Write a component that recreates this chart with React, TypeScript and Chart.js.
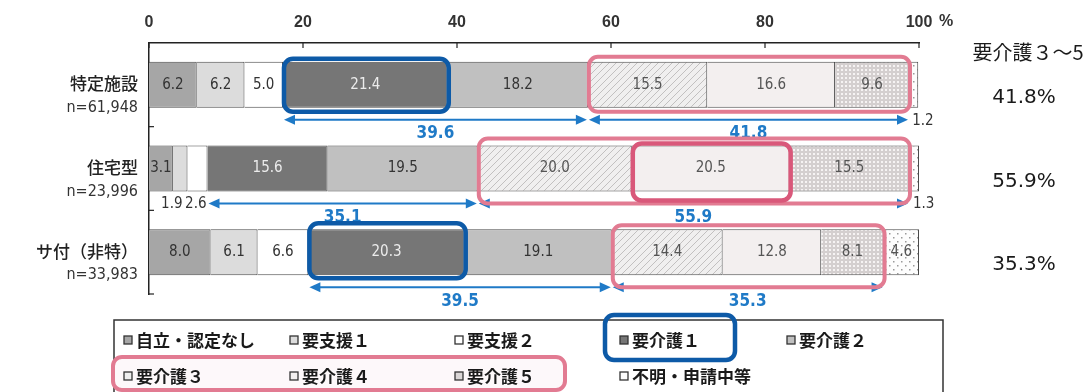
import { useEffect, useRef } from "react";
import { Chart, registerables } from "chart.js";

Chart.register(...registerables);

// ---- data ----
const categoryNames = ["特定施設", "住宅型", "サ付（非特）"];
const categorySizes = ["n=61,948", "n=23,996", "n=33,983"];
const seriesNames = [
  "自立・認定なし",
  "要支援１",
  "要支援２",
  "要介護１",
  "要介護２",
  "要介護３",
  "要介護４",
  "要介護５",
  "不明・申請中等",
];
const jiritsu = [6.2, 3.1, 8.0];
const shien1 = [6.2, 1.9, 6.1];
const shien2 = [5.0, 2.6, 6.6];
const kaigo1 = [21.4, 15.6, 20.3];
const kaigo2 = [18.2, 19.5, 19.1];
const kaigo3 = [15.5, 20.0, 14.4];
const kaigo4 = [16.6, 20.5, 12.8];
const kaigo5 = [9.6, 15.5, 8.1];
const unknown = [1.2, 1.3, 4.6];
const xTicks = [0, 20, 40, 60, 80, 100];
const sum1to2 = [39.6, 35.1, 39.5];
const sum3to5 = [41.8, 55.9, 35.3];
const rightHeader = "要介護３～5";

const seriesValues = [jiritsu, shien1, shien2, kaigo1, kaigo2, kaigo3, kaigo4, kaigo5, unknown];

// ---- styles ----
const NARROW = '"Liberation Sans Narrow", "DejaVu Sans Condensed", "Liberation Sans", sans-serif';
const CJK = '"Noto Sans CJK JP", "Noto Sans", sans-serif';
const baseColors = ["#a6a6a6", "#dcdcdc", "#ffffff", "#767676", "#c0c0c0", "#eeeeee", "#f3efef", "#dad6d6", "#fbfbfb"];
const ARROW = "#1f7ac7";
const BLUE_BOX = "#0d5aa7";
const PINK_BOX = "#e27b92";
const PINK_DARK = "#d9587a";

// highlight boxes: row, first series, last series, extra top, extra bottom
const boxes = [
  { row: 0, from: 5, to: 7, up: 5, down: 4, color: PINK_BOX, lw: 4 },
  { row: 1, from: 5, to: 7, up: 7, down: 12, color: PINK_BOX, lw: 4 },
  { row: 2, from: 5, to: 7, up: 4, down: 12, color: PINK_BOX, lw: 4 },
  { row: 1, from: 6, to: 6, up: 2, down: 9, color: PINK_DARK, lw: 4.5 },
  { row: 0, from: 3, to: 3, up: 3, down: 4, color: BLUE_BOX, lw: 4.5 },
  { row: 2, from: 3, to: 3, up: 6, down: 3, color: BLUE_BOX, lw: 4.5 },
];

function makePattern(kind: string): CanvasPattern | string {
  const c = document.createElement("canvas");
  const ctx = c.getContext("2d");
  if (!ctx) return "#eee";
  if (kind === "hatch") {
    c.width = 7; c.height = 7;
    ctx.fillStyle = "#f0efef";
    ctx.fillRect(0, 0, 7, 7);
    ctx.strokeStyle = "#c2c0c0";
    ctx.lineWidth = 1;
    ctx.beginPath();
    ctx.moveTo(-1, 8); ctx.lineTo(8, -1);
    ctx.moveTo(-1, 1); ctx.lineTo(1, -1);
    ctx.moveTo(6, 8); ctx.lineTo(8, 6);
    ctx.stroke();
  } else if (kind === "dots") {
    c.width = 4; c.height = 4;
    ctx.fillStyle = "#d4cfcf";
    ctx.fillRect(0, 0, 4, 4);
    ctx.fillStyle = "#f6f3f3";
    ctx.fillRect(1, 1, 2, 2);
  } else {
    c.width = 8; c.height = 8;
    ctx.fillStyle = "#fdfdfd";
    ctx.fillRect(0, 0, 8, 8);
    ctx.fillStyle = "#9a9a9a";
    ctx.fillRect(1, 1, 1.5, 1.5);
    ctx.fillRect(5, 5, 1.5, 1.5);
  }
  return ctx.createPattern(c, "repeat") as CanvasPattern;
}

function drawArrow(ctx: CanvasRenderingContext2D, x1: number, x2: number, y: number) {
  const hl = 11, hw = 5;
  ctx.strokeStyle = ARROW;
  ctx.fillStyle = ARROW;
  ctx.lineWidth = 2;
  ctx.beginPath();
  ctx.moveTo(x1 + hl - 2, y);
  ctx.lineTo(x2 - hl + 2, y);
  ctx.stroke();
  ctx.beginPath();
  ctx.moveTo(x1, y); ctx.lineTo(x1 + hl, y - hw); ctx.lineTo(x1 + hl, y + hw); ctx.closePath();
  ctx.fill();
  ctx.beginPath();
  ctx.moveTo(x2, y); ctx.lineTo(x2 - hl, y - hw); ctx.lineTo(x2 - hl, y + hw); ctx.closePath();
  ctx.fill();
}

const annotPlugin = {
  id: "annot",
  afterDatasetsDraw(chart: any) {
    const ctx: CanvasRenderingContext2D = chart.ctx;
    const area = chart.chartArea;
    const metas = seriesValues.map((_, i) => chart.getDatasetMeta(i));
    const seg = (s: number, r: number) => metas[s].data[r].getProps(["x", "base", "y", "height"], true);

    ctx.save();
    // inward tick marks
    ctx.strokeStyle = "#222";
    ctx.lineWidth = 1.2;
    const xs = chart.scales.x;
    xTicks.forEach((v) => {
      const px = xs.getPixelForValue(v);
      ctx.beginPath(); ctx.moveTo(px, area.top); ctx.lineTo(px, area.top + 5); ctx.stroke();
    });
    const step = (area.bottom - area.top) / categoryNames.length;
    for (let i = 1; i <= categoryNames.length; i++) {
      const py = area.top + i * step;
      ctx.beginPath(); ctx.moveTo(area.left, py); ctx.lineTo(area.left + 5, py); ctx.stroke();
    }

    // segment labels
    ctx.textBaseline = "middle";
    for (let s = 0; s < seriesValues.length; s++) {
      for (let r = 0; r < categoryNames.length; r++) {
        const v = seriesValues[s][r];
        const p = seg(s, r);
        const left = Math.min(p.x, p.base), right = Math.max(p.x, p.base);
        ctx.font = `15px ${NARROW}`;
        if (v >= 3) {
          ctx.textAlign = "center";
          ctx.fillStyle = s === 3 ? "#ececec" : s >= 5 ? "#555" : "#333";
          ctx.fillText(v.toFixed(1), (left + right) / 2, p.y);
        } else {
          ctx.fillStyle = "#333";
          const yb = p.y + p.height / 2 + 13;
          if (s === seriesValues.length - 1) {
            ctx.textAlign = "left";
            ctx.fillText(v.toFixed(1), right - 6, yb);
          } else {
            ctx.textAlign = "right";
            ctx.fillText(v.toFixed(1), right - (s === 1 ? 5 : 1), yb);
          }
        }
      }
    }

    // arrows with sums
    for (let r = 0; r < categoryNames.length; r++) {
      const a = seg(3, r), b = seg(4, r), c = seg(7, r);
      const x0 = Math.min(a.x, a.base), x1 = Math.max(b.x, b.base), x2 = Math.max(c.x, c.base);
      const y = a.y + a.height / 2 + 12;
      drawArrow(ctx, x0 + 1, x1 - 1, y);
      drawArrow(ctx, x1 + 1, x2 - 1, y);
      ctx.fillStyle = ARROW;
      ctx.font = `bold 17px ${NARROW}`;
      ctx.textAlign = "center";
      ctx.fillText(sum1to2[r].toFixed(1), (x0 + x1) / 2, y + 14);
      ctx.fillText(sum3to5[r].toFixed(1), (x1 + x2) / 2, y + 14);
    }

    // highlight boxes
    boxes.forEach((bx) => {
      const a = seg(bx.from, bx.row), b = seg(bx.to, bx.row);
      const left = Math.min(a.x, a.base), right = Math.max(b.x, b.base);
      const top = a.y - a.height / 2 - bx.up, bottom = a.y + a.height / 2 + bx.down;
      ctx.strokeStyle = bx.color;
      ctx.lineWidth = bx.lw;
      ctx.beginPath();
      ctx.roundRect(left + 1, top, right - left, bottom - top, 9);
      ctx.stroke();
    });

    // category labels
    categoryNames.forEach((name, r) => {
      const p = seg(0, r);
      ctx.fillStyle = "#222";
      ctx.textAlign = "right";
      ctx.font = `500 17px ${CJK}`;
      ctx.fillText(name, area.left - 11, p.y - 1);
      ctx.font = `16px ${NARROW}`;
      ctx.fillStyle = "#333";
      ctx.fillText(categorySizes[r], area.left - 11, p.y + 23);
    });

    // right side summary
    ctx.fillStyle = "#1a1a1a";
    ctx.textAlign = "center";
    ctx.font = `20px ${CJK}`;
    ctx.fillText(rightHeader, 1028, 52);
    ctx.font = `20px "DejaVu Sans", ${CJK}`;
    categoryNames.forEach((_, r) => {
      const p = seg(0, r);
      ctx.fillText(sum3to5[r].toFixed(1) + "%", 1024, p.y + 13);
    });

    // % unit
    ctx.font = `bold 16px "Liberation Sans", sans-serif`;
    ctx.fillStyle = "#333";
    ctx.textAlign = "left";
    ctx.fillText("%", xs.getPixelForValue(100) + 20, 22);
    ctx.restore();
  },
  afterDraw(chart: any) {
    const ctx: CanvasRenderingContext2D = chart.ctx;
    const ds = chart.data.datasets;
    ctx.save();
    // legend frame
    ctx.strokeStyle = "#333";
    ctx.lineWidth = 1.5;
    ctx.beginPath();
    ctx.moveTo(114, 400); ctx.lineTo(114, 320); ctx.lineTo(943, 320); ctx.lineTo(943, 400);
    ctx.stroke();
    // pink legend highlight fill
    ctx.fillStyle = "rgba(240,200,210,0.12)";
    ctx.beginPath(); ctx.roundRect(113, 357, 452, 33, 9); ctx.fill();

    const colX = [124, 290, 455, 620, 787];
    const rowY = [340, 376];
    seriesNames.forEach((name, i) => {
      const row = i < 5 ? 0 : 1;
      const col = i < 5 ? i : i - 5;
      const x = colX[col], y = rowY[row];
      const bg = ds[i].legendFill;
      ctx.fillStyle = bg;
      ctx.fillRect(x, y - 4, 8, 8);
      ctx.strokeStyle = "#333";
      ctx.lineWidth = 1.3;
      ctx.strokeRect(x, y - 4, 8, 8);
      ctx.fillStyle = "#1a1a1a";
      ctx.font = `bold 17px ${CJK}`;
      ctx.textAlign = "left";
      ctx.textBaseline = "middle";
      ctx.fillText(name, x + 12, y + 1);
    });
    // legend highlight boxes
    ctx.strokeStyle = PINK_BOX;
    ctx.lineWidth = 4;
    ctx.beginPath(); ctx.roundRect(113, 357, 452, 33, 9); ctx.stroke();
    ctx.strokeStyle = BLUE_BOX;
    ctx.lineWidth = 4.5;
    ctx.beginPath(); ctx.roundRect(605, 315, 130, 45, 9); ctx.stroke();
    ctx.restore();
  },
};

export default function App() {
  const ref = useRef<HTMLCanvasElement | null>(null);
  useEffect(() => {
    const canvas = ref.current;
    if (!canvas) return;
    const fills: any[] = baseColors.map((c, i) => {
      if (i === 5) return makePattern("hatch");
      if (i === 7) return makePattern("dots");
      if (i === 8) return makePattern("sparse");
      return c;
    });
    const chart = new Chart(canvas, {
      type: "bar",
      data: {
        labels: categoryNames,
        datasets: seriesNames.map((name, i) => ({
          label: name,
          data: seriesValues[i],
          backgroundColor: fills[i],
          legendFill: baseColors[i],
          borderColor: "#4a4a4a",
          borderWidth: 1,
          barPercentage: 0.55,
          categoryPercentage: 1,
        })) as any,
      },
      options: {
        indexAxis: "y",
        animation: false,
        responsive: false,
        maintainAspectRatio: false,
        devicePixelRatio: 1,
        layout: { padding: { left: 0, right: 173, top: 0, bottom: 98 } },
        plugins: { legend: { display: false }, tooltip: { enabled: false } },
        scales: {
          x: {
            position: "top",
            stacked: true,
            min: 0,
            max: 100,
            afterBuildTicks: (s: any) => {
              s.ticks = xTicks.map((v) => ({ value: v }));
            },
            afterFit: (s: any) => {
              s.height = 43;
            },
            ticks: {
              padding: 11,
              color: "#333",
              font: { family: '"Liberation Sans", sans-serif', size: 16, weight: "bold" },
            },
            grid: { display: false, drawTicks: false },
            border: { display: true, color: "#222", width: 1.5 },
          },
          y: {
            stacked: true,
            afterFit: (s: any) => {
              s.width = 149;
            },
            ticks: { display: false },
            grid: { display: false, drawTicks: false },
            border: { display: true, color: "#222", width: 1.5 },
          },
        },
      } as any,
      plugins: [annotPlugin],
    });
    return () => chart.destroy();
  }, []);
  return (
    <div style={{ position: "fixed", left: 0, top: 0, width: 1092, height: 392, background: "#fff" }}>
      <canvas ref={ref} width={1092} height={392} style={{ display: "block", width: 1092, height: 392 }} />
    </div>
  );
}
